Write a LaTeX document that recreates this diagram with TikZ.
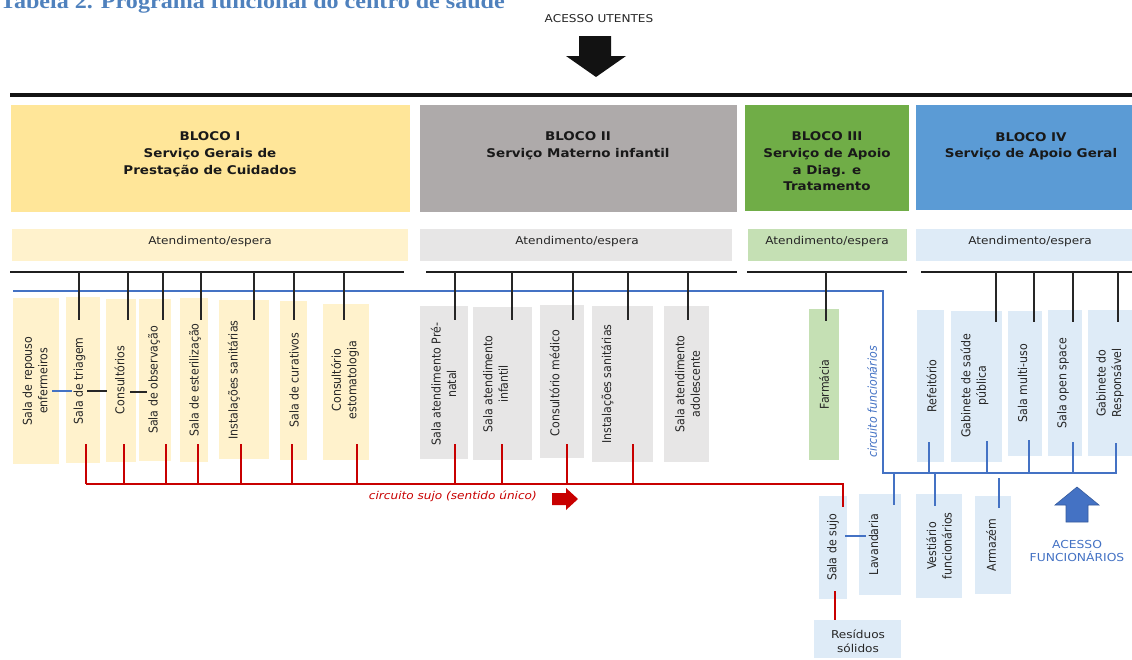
\documentclass[tikz,border=0pt]{standalone}
\usepackage{fontspec}
\newfontfamily\hf[FakeStretch=1.12]{DejaVu Sans}
\newfontfamily\vf[FakeStretch=0.9]{DejaVu Sans}
\newfontfamily\tf[FakeStretch=1.12]{Liberation Serif}
\definecolor{b1d}{HTML}{FFE699}
\definecolor{b1l}{HTML}{FFF2CC}
\definecolor{b2d}{HTML}{AEAAAA}
\definecolor{b2l}{HTML}{E7E6E6}
\definecolor{b3d}{HTML}{70AD47}
\definecolor{b3l}{HTML}{C5E0B4}
\definecolor{b4d}{HTML}{5B9BD5}
\definecolor{b4l}{HTML}{DEEBF7}
\definecolor{lblue}{HTML}{4472C4}
\definecolor{redc}{HTML}{C80000}
\definecolor{ttl}{HTML}{4F81BD}
\tikzset{
  blk/.style={inner sep=0, draw=none},
  hdrtxt/.style={font=\hf\bfseries\fontsize{12}{16.7}\selectfont, align=center, anchor=north, inner sep=0, text=black!90},
  atttxt/.style={font=\hf\fontsize{10.8}{13}\selectfont, inner sep=0, text=black!85},
  room/.style={inner sep=0, draw=none},
  rlab/.style={rotate=90, font=\vf\fontsize{12.2}{15.5}\selectfont, align=center, inner sep=0, text=black!85},
  bus/.style={line width=2pt, black!88},
  tick/.style={line width=2pt, black!85},
  bl/.style={line width=1.8pt, lblue},
  rd/.style={line width=1.8pt, redc},
}
\begin{document}
\begin{tikzpicture}[x=1pt,y=-1pt]
\useasboundingbox (0,0) rectangle (1132,659);

% title (cut at top)
\node[anchor=base west, inner sep=0, text=ttl, font=\tf\bfseries\fontsize{21.5}{24}\selectfont] (title) at (0,8.5) {Tabela 2. Programa funcional do centro de saúde};

% access utentes
\node[font=\hf\fontsize{10.8}{13}\selectfont, inner sep=0, text=black!85] (acu) at (599,19) {ACESSO UTENTES};
\fill[black!93] (579,36) -- (611,36) -- (611,56) -- (626,56) -- (596,77) -- (566,56) -- (579,56) -- cycle;

% thick top line
\draw[line width=4pt, black!92] (10,95) -- (1140,95);

% block headers
\node[blk, fill=b1d, minimum width=399, minimum height=107] (b1) at (210.5,158.5) {};
\node[blk, fill=b2d, minimum width=317, minimum height=107] (b2) at (578.5,158.5) {};
\node[blk, fill=b3d, minimum width=164, minimum height=106] (b3) at (827,158) {};
\node[blk, fill=b4d, minimum width=230, minimum height=105] (b4) at (1031,157.5) {};
\node[hdrtxt] (b1t) at (210,131.5) {BLOCO I\\Serviço Gerais de\\Prestação de Cuidados};
\node[hdrtxt] (b2t) at (578,131.5) {BLOCO II\\Serviço Materno infantil};
\node[hdrtxt] (b3t) at (827,131.5) {BLOCO III\\Serviço de Apoio\\a Diag. e\\Tratamento};
\node[hdrtxt] (b4t) at (1031,132) {BLOCO IV\\Serviço de Apoio Geral};

% atendimento/espera
\node[blk, fill=b1l, minimum width=396, minimum height=32] (a1) at (210,245) {};
\node[blk, fill=b2l, minimum width=312, minimum height=32] (a2) at (576,245) {};
\node[blk, fill=b3l, minimum width=159, minimum height=32] (a3) at (827.5,245) {};
\node[blk, fill=b4l, minimum width=228, minimum height=32] (a4) at (1030,245) {};
\node[atttxt] (a1t) at (210,242) {Atendimento/espera};
\node[atttxt] (a2t) at (577,242) {Atendimento/espera};
\node[atttxt] (a3t) at (827,242) {Atendimento/espera};
\node[atttxt] (a4t) at (1030,242) {Atendimento/espera};

% rooms block I
\node[room, fill=b1l, minimum width=46, minimum height=166] (r1) at (36,381) {};
\node[room, fill=b1l, minimum width=34, minimum height=166] (r2) at (83,380) {};
\node[room, fill=b1l, minimum width=30, minimum height=163] (r3) at (121,380.5) {};
\node[room, fill=b1l, minimum width=32, minimum height=162] (r4) at (155,380) {};
\node[room, fill=b1l, minimum width=28, minimum height=164] (r5) at (194,380) {};
\node[room, fill=b1l, minimum width=50, minimum height=159] (r6) at (244,379.5) {};
\node[room, fill=b1l, minimum width=27, minimum height=159] (r7) at (293.5,380.5) {};
\node[room, fill=b1l, minimum width=46, minimum height=156] (r8) at (346,382) {};
\node[rlab] (r1t) at (35,381) {Sala de repouso\\enfermeiros};
\node[rlab] (r2t) at (79.5,381) {Sala de triagem};
\node[rlab] (r3t) at (119.5,380) {Consultórios};
\node[rlab] (r4t) at (154,380) {Sala de observação};
\node[rlab] (r5t) at (195,380) {Sala de esterilização};
\node[rlab] (r6t) at (234,380) {Instalações sanitárias};
\node[rlab] (r7t) at (294,380) {Sala de curativos};
\node[rlab] (r8t) at (345,380) {Consultório\\estomatologia};

% rooms block II
\node[room, fill=b2l, minimum width=48, minimum height=153] (s1) at (444,382.5) {};
\node[room, fill=b2l, minimum width=59, minimum height=153] (s2) at (502.5,383.5) {};
\node[room, fill=b2l, minimum width=44, minimum height=153] (s3) at (562,381.5) {};
\node[room, fill=b2l, minimum width=61, minimum height=156] (s4) at (622.5,384) {};
\node[room, fill=b2l, minimum width=45, minimum height=156] (s5) at (686.5,384) {};
\node[rlab] (s1t) at (443.5,384) {Sala atendimento Pré-\\natal};
\node[rlab] (s2t) at (495.5,384) {Sala atendimento\\infantil};
\node[rlab] (s3t) at (554.5,383) {Consultório médico};
\node[rlab] (s4t) at (607.5,384) {Instalações sanitárias};
\node[rlab] (s5t) at (687.5,384) {Sala atendimento\\adolescente};

% block III
\node[room, fill=b3l, minimum width=30, minimum height=151] (f1) at (824,384.5) {};
\node[rlab] (f1t) at (824,384.5) {Farmácia};

% block IV
\node[room, fill=b4l, minimum width=27, minimum height=152] (g1) at (930.5,386) {};
\node[room, fill=b4l, minimum width=51, minimum height=151] (g2) at (976.5,386.5) {};
\node[room, fill=b4l, minimum width=34, minimum height=145] (g3) at (1025,383.5) {};
\node[room, fill=b4l, minimum width=34, minimum height=146] (g4) at (1065,383) {};
\node[room, fill=b4l, minimum width=46, minimum height=146] (g5) at (1111,383) {};
\node[rlab] (g1t) at (931.5,386) {Refeitório};
\node[rlab] (g2t) at (974.5,386) {Gabinete de saúde\\pública};
\node[rlab] (g3t) at (1022.5,383) {Sala multi-uso};
\node[rlab] (g4t) at (1063,383) {Sala open space};
\node[rlab] (g5t) at (1110,383) {Gabinete do\\Responsável};

% lower boxes
\node[room, fill=b4l, minimum width=28, minimum height=103] (l1) at (833,547.5) {};
\node[room, fill=b4l, minimum width=42, minimum height=101] (l2) at (880,544.5) {};
\node[room, fill=b4l, minimum width=46, minimum height=104] (l3) at (939,546) {};
\node[room, fill=b4l, minimum width=36, minimum height=98] (l4) at (993,545) {};
\node[room, fill=b4l, minimum width=87, minimum height=38] (res) at (857.5,639) {};
\node[rlab] (l1t) at (833,547.5) {Sala de sujo};
\node[rlab] (l2t) at (873.5,544.5) {Lavandaria};
\node[rlab] (l3t) at (939,546) {Vestiário\\funcionários};
\node[rlab] (l4t) at (991,545) {Armazém};
\node[font=\hf\fontsize{10.8}{14}\selectfont, align=center, inner sep=0, text=black!85] (rest) at (858,641) {Resíduos\\sólidos};

% black buses
\coordinate (busIa) at (10,272); \coordinate (busIb) at (404,272);
\coordinate (busIIa) at (426,272); \coordinate (busIIb) at (737,272);
\coordinate (busIIIa) at (747,272); \coordinate (busIIIb) at (907,272);
\coordinate (busIVa) at (921,272); \coordinate (busIVb) at (1140,272);
\draw[bus] (busIa) -- (busIb);
\draw[bus] (busIIa) -- (busIIb);
\draw[bus] (busIIIa) -- (busIIIb);
\draw[bus] (busIVa) -- (busIVb);

% blue employee circuit
\coordinate (bc0) at (13,291); \coordinate (bc1) at (883,291);
\coordinate (bc2) at (883,473); \coordinate (bc3) at (1116,473);
\coordinate (bc4) at (1116,443);
\draw[bl] (bc0) -- (bc1) -- (bc2) -- (bc3) -- (bc4);
\foreach \x/\y in {929/442, 987/441, 1029/440, 1073/442}{
  \draw[bl] (\x,473) -- (\x,\y);
}
\foreach \x/\ya/\yb in {894/473/505, 935/473/506, 999/478/508}{
  \draw[bl] (\x,\ya) -- (\x,\yb);
}

% black ticks
\foreach \x in {79,128,163,201,254,294,344}{
  \draw[tick] (\x,272) -- (\x,320);
}
\foreach \x in {455,512,573,628,688}{
  \draw[tick] (\x,272) -- (\x,320);
}
\draw[tick] (826,272) -- (826,321);
\foreach \x in {996,1034,1073,1118}{
  \draw[tick] (\x,272) -- (\x,322);
}

% small links between rooms
\coordinate (lk1a) at (52,391); \coordinate (lk1b) at (72,391);
\coordinate (lk2a) at (87,391); \coordinate (lk2b) at (107,391);
\coordinate (lk3a) at (130,392); \coordinate (lk3b) at (147,392);
\coordinate (lk4a) at (845,536); \coordinate (lk4b) at (866,536);
\draw[bl] (lk1a) -- (lk1b);
\draw[tick] (lk2a) -- (lk2b);
\draw[tick] (lk3a) -- (lk3b);
\draw[bl] (lk4a) -- (lk4b);

% red dirty circuit
\coordinate (rc0) at (86,484); \coordinate (rc1) at (843,484); \coordinate (rc2) at (843,507);
\draw[rd] (rc0) -- (rc1) -- (rc2);
\foreach \x in {86,124,166,198,241,292,357,455,502,567,633}{
  \draw[rd] (\x,444) -- (\x,484);
}
\draw[rd] (835,591) -- (835,620);
\fill[redc] (552,493) -- (566,493) -- (566,488) -- (578,499) -- (566,510) -- (566,505) -- (552,505) -- cycle;
\node[anchor=east, inner sep=0, text=redc, font=\hf\itshape\fontsize{10.8}{13}\selectfont] (cs) at (537,496) {circuito sujo (sentido único)};

% circuito funcionarios
\node[rotate=90, inner sep=0, text=lblue, font=\vf\itshape\fontsize{12.2}{13}\selectfont] (cf) at (872,402) {circuito funcionários};

% access funcionarios
\filldraw[fill=lblue, draw=lblue!80!black, line width=0.6pt] (1066,522) -- (1066,505) -- (1055,505) -- (1077,487) -- (1099,505) -- (1088,505) -- (1088,522) -- cycle;
\node[font=\hf\fontsize{11}{13.5}\selectfont, align=center, inner sep=0, text=lblue] (acf) at (1077,551) {ACESSO\\FUNCIONÁRIOS};

\end{tikzpicture}
\end{document}
